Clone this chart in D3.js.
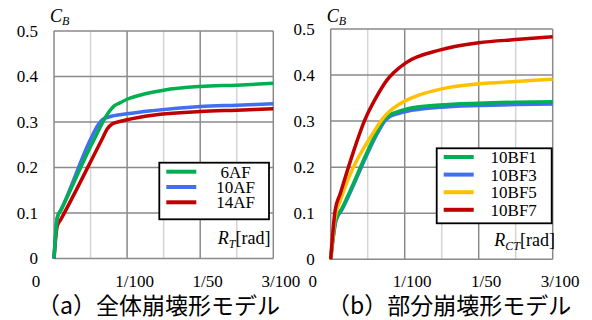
<!DOCTYPE html>
<html>
<head>
<meta charset="utf-8">
<script src="https://cdn.jsdelivr.net/npm/d3@7"></script>
<style>
  body { margin: 0; background: #fff; }
</style>
</head>
<body>
<div id="chart"></div>
<script>
// ticks
const xTicks = [0, 0.01, 0.02, 0.03];
const xTickLabels = ["0", "1/100", "1/50", "3/100"];
const xMinor = [0.005, 0.015, 0.025];
const yTicks = [0, 0.1, 0.2, 0.3, 0.4, 0.5];

// (a) total collapse models
const namesA = ["6AF", "10AF", "14AF"];
const colorsA = ["#00b050", "#4070f0", "#c00000"];
const rad6AF  = [0, 0.00045, 0.001, 0.0055, 0.0075, 0.0082, 0.009, 0.01, 0.0125, 0.015, 0.02, 0.025, 0.03];
const cb6AF   = [0, 0.09, 0.108, 0.262, 0.322, 0.335, 0.342, 0.350, 0.362, 0.370, 0.378, 0.381, 0.385];
const rad10AF = [0, 0.00045, 0.001, 0.005, 0.006, 0.0066, 0.0075, 0.01, 0.0135, 0.02, 0.025, 0.03];
const cb10AF  = [0, 0.09, 0.108, 0.262, 0.293, 0.305, 0.311, 0.318, 0.325, 0.334, 0.337, 0.340];
const rad14AF = [0, 0.00045, 0.0009, 0.0065, 0.0073, 0.008, 0.009, 0.01, 0.0135, 0.02, 0.025, 0.03];
const cb14AF  = [0, 0.072, 0.085, 0.26, 0.285, 0.296, 0.301, 0.305, 0.315, 0.323, 0.326, 0.329];

// (b) partial collapse models
const namesB = ["10BF1", "10BF3", "10BF5", "10BF7"];
const colorsB = ["#00b050", "#4070f0", "#ffc000", "#c00000"];
const radBF1 = [0, 0.0007, 0.0015, 0.0064, 0.0072, 0.008, 0.009, 0.0102, 0.0147, 0.02, 0.025, 0.03];
const cbBF1  = [0, 0.085, 0.11, 0.281, 0.303, 0.314, 0.320, 0.326, 0.335, 0.339, 0.341, 0.342];
const radBF3 = [0, 0.0007, 0.0015, 0.0065, 0.0073, 0.008, 0.009, 0.0102, 0.0147, 0.02, 0.025, 0.03];
const cbBF3  = [0, 0.083, 0.107, 0.279, 0.300, 0.310, 0.316, 0.321, 0.330, 0.334, 0.336, 0.337];
const radBF5 = [0, 0.0006, 0.0013, 0.006, 0.007, 0.008, 0.009, 0.0102, 0.012, 0.0147, 0.02, 0.025, 0.03];
const cbBF5  = [0, 0.092, 0.128, 0.281, 0.305, 0.322, 0.334, 0.345, 0.357, 0.369, 0.381, 0.386, 0.391];
const radBF7 = [0, 0.0006, 0.0013, 0.003, 0.0046, 0.0062, 0.0076, 0.0085, 0.0102, 0.0147, 0.02, 0.025, 0.03];
const cbBF7  = [0, 0.106, 0.143, 0.230, 0.302, 0.353, 0.389, 0.405, 0.427, 0.454, 0.470, 0.477, 0.483];

const zip = (xs, ys) => xs.map((v, i) => [v, ys[i]]);

const serif = "Liberation Serif";

const svg = d3.select("#chart").append("svg")
    .attr("width", 592)
    .attr("height", 320);

function drawPanel(p) {
    const x = d3.scaleLinear().domain([0, 0.03]).range([p.left, p.right]);
    const y = d3.scaleLinear().domain([0, 0.5]).range([p.bottom, p.top]);
    const g = svg.append("g");

    // minor vertical grid (light)
    g.selectAll("line.minor").data(xMinor).enter().append("line")
        .attr("x1", d => x(d)).attr("x2", d => x(d))
        .attr("y1", p.top).attr("y2", p.bottom)
        .attr("stroke", "#d4d4d4").attr("stroke-width", 1.5);

    // major grid
    g.selectAll("line.vmajor").data(xTicks).enter().append("line")
        .attr("x1", d => x(d)).attr("x2", d => x(d))
        .attr("y1", p.top).attr("y2", p.bottom)
        .attr("stroke", "#8a8a8a").attr("stroke-width", 1.5);
    g.selectAll("line.hmajor").data(yTicks).enter().append("line")
        .attr("x1", p.left).attr("x2", p.right)
        .attr("y1", d => y(d)).attr("y2", d => y(d))
        .attr("stroke", "#8a8a8a").attr("stroke-width", 1.5);

    // y tick labels
    g.selectAll("text.ylab").data(yTicks).enter().append("text")
        .attr("font-family", serif)
        .attr("x", p.left - 16)
        .attr("y", d => y(d))
        .attr("dy", "0.35em")
        .attr("text-anchor", "end")
        .attr("font-size", 17)
        .text(d => d === 0 ? "0" : d3.format(".1f")(d));

    // x tick labels (the "0" sits left of the axis)
    g.selectAll("text.xlab").data(xTicks).enter().append("text")
        .attr("font-family", serif)
        .attr("x", d => d === 0 ? x(d) - 18 : x(d) + 7.5)
        .attr("y", 287)
        .attr("text-anchor", "middle")
        .attr("font-size", 17)
        .text((d, i) => xTickLabels[i]);

    // C_B label
    const cb = g.append("text").attr("font-family", serif)
        .attr("x", p.left - 4).attr("y", 22).attr("font-size", 18);
    cb.append("tspan").attr("font-style", "italic").text("C");
    cb.append("tspan").attr("font-style", "italic").attr("font-size", 12).attr("dy", 3).text("B");

    // x axis title
    const xt = g.append("text").attr("font-family", serif)
        .attr("x", p.xTitleX).attr("y", p.xTitleY)
        .attr("text-anchor", "end").attr("font-size", 18);
    xt.append("tspan").attr("font-style", "italic").text("R");
    xt.append("tspan").attr("font-style", "italic").attr("font-size", 12).attr("dy", 4).text(p.sub);
    xt.append("tspan").attr("dy", -4).text("[rad]");

    // curves
    const line = d3.line()
        .x(d => x(d[0]))
        .y(d => y(d[1]))
        .curve(d3.curveMonotoneX);
    p.order.forEach(i => {
        g.append("path")
            .datum(p.series[i])
            .attr("fill", "none")
            .attr("stroke", p.colors[i])
            .attr("stroke-width", 3.5)
            .attr("stroke-linejoin", "round")
            .attr("d", line);
    });

    // legend
    const lg = g.append("g");
    lg.append("rect")
        .attr("x", p.legend.x).attr("y", p.legend.y)
        .attr("width", p.legend.w).attr("height", p.legend.h)
        .attr("fill", "#fff").attr("stroke", "#000").attr("stroke-width", 1.8);
    p.names.forEach((name, i) => {
        const ry = p.legend.row0 + i * p.legend.step;
        lg.append("line")
            .attr("x1", p.legend.x + 7).attr("x2", p.legend.x + 37)
            .attr("y1", ry).attr("y2", ry)
            .attr("stroke", p.colors[i]).attr("stroke-width", 4);
        lg.append("text")
            .attr("font-family", serif)
            .attr("x", p.legend.textX).attr("y", ry)
            .attr("dy", "0.35em")
            .attr("text-anchor", "middle")
            .attr("font-size", 17)
            .text(name);
    });

    // caption
    g.append("text")
        .attr("font-family", "Noto Sans CJK JP")
        .attr("font-size", 23)
        .attr("x", p.capX).attr("y", 314)
        .text(p.caption);
}

drawPanel({
    left: 54, right: 273.3, top: 31, bottom: 258.5,
    names: namesA, colors: colorsA,
    series: [zip(rad6AF, cb6AF), zip(rad10AF, cb10AF), zip(rad14AF, cb14AF)],
    order: [2, 1, 0],
    legend: {x: 159.3, y: 162.7, w: 109.7, h: 56.6, row0: 171.7, step: 15.3, textX: 235.5},
    sub: "T", xTitleX: 270.5, xTitleY: 243.5,
    caption: "（a）全体崩壊形モデル", capX: 37
});

drawPanel({
    left: 330.7, right: 552.7, top: 29, bottom: 259.3,
    names: namesB, colors: colorsB,
    series: [zip(radBF1, cbBF1), zip(radBF3, cbBF3), zip(radBF5, cbBF5), zip(radBF7, cbBF7)],
    order: [1, 0, 2, 3],
    legend: {x: 436.7, y: 148.3, w: 115, h: 75, row0: 157, step: 17.6, textX: 513.7},
    sub: "CT", xTitleX: 555, xTitleY: 246,
    caption: "（b）部分崩壊形モデル", capX: 327
});
</script>
</body>
</html>
